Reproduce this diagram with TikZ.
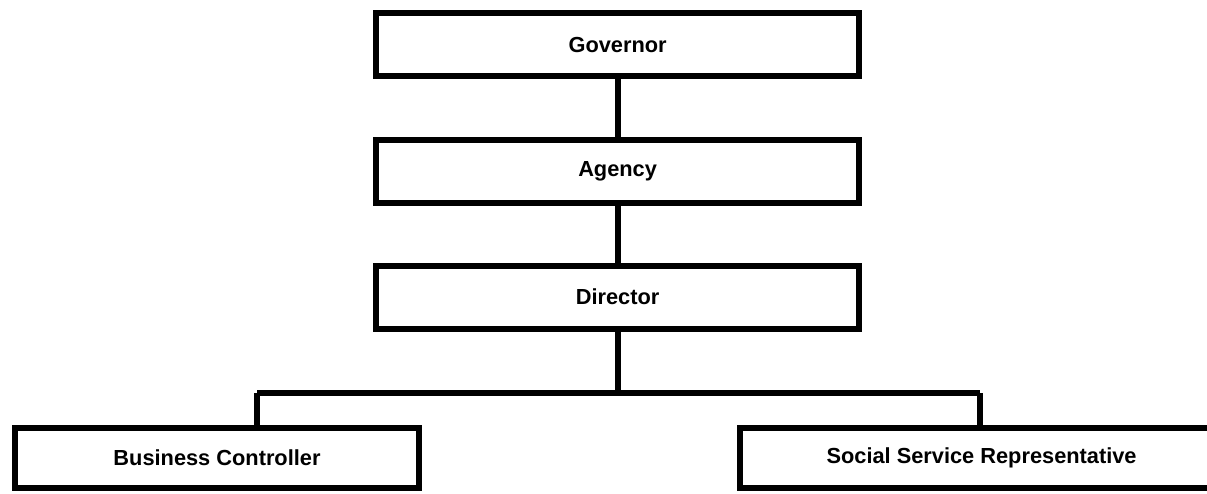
\documentclass[tikz,border=0pt]{standalone}
\usepackage{fontspec}
\setmainfont{Liberation Sans}
\usepackage{tikz}

\begin{document}
\begin{tikzpicture}[line width=0.15cm,
	post/.style={draw, rectangle, minimum width=12.09cm, minimum height=1.575cm, inner sep=0pt, font=\fontsize{15.5}{18}\selectfont\bfseries}]
				\useasboundingbox (0,0) rectangle (30.175,-12.325);
				\clip (0,0) rectangle (30.175,-12.325);
				\node[post] (Gov)at(15.44, -1.1125) {Governor};
				\node[post] (Ag)at(15.44, -4.275) {Agency};
				\node[post] (Dir)at(15.44, -7.425) {Director};
				\node[post, minimum width=10.1cm, minimum height=1.5cm] (BC)at(5.425, -11.45) {Business Controller};
				\node[post, minimum height=1.5cm] (SSR)at(24.54, -11.45) {Social Service Representative};
				\coordinate (BL)at(6.425, -9.825);
				\coordinate (SR)at(24.5, -9.825);
				\draw (Gov) -- (Ag);
				\draw (Ag) -- (Dir);
				\draw (Dir.south) -- (Dir.south |- BL);
				\draw (BL) -- (SR);
				\draw (BL) -- (BL |- BC.north);
				\draw (SR) -- (SR |- SSR.north);
			\end{tikzpicture}
\end{document}
